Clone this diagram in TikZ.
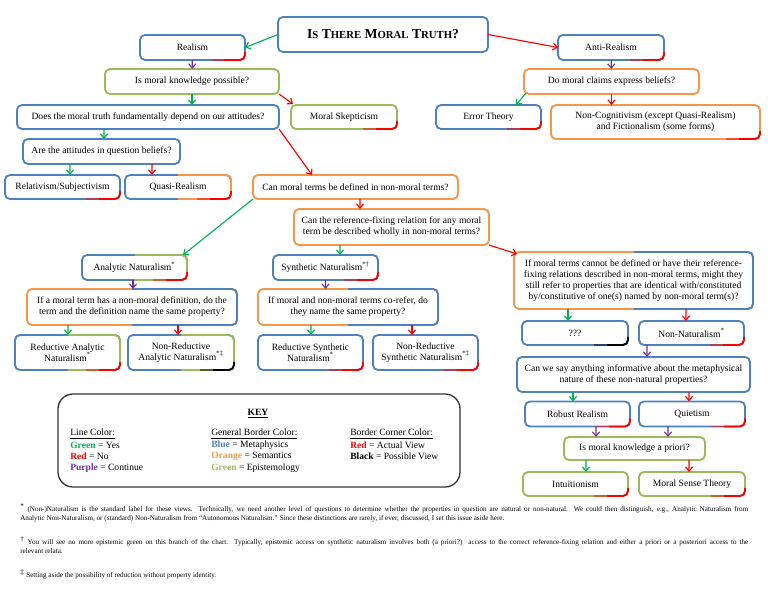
\documentclass[tikz,border=0pt]{standalone}
\usepackage{fontspec}
\setmainfont{Liberation Serif}
\usetikzlibrary{arrows.meta,calc}

\definecolor{mblue}{RGB}{79,129,189}
\definecolor{morange}{RGB}{247,150,70}
\definecolor{mgreen}{RGB}{155,187,89}
\definecolor{lgreen}{RGB}{0,176,80}
\definecolor{lpurple}{RGB}{112,48,160}

\newcommand{\smc}[1]{{\fontsize{7.5}{8.5}\selectfont #1}}
% corner colour of a box (node, corner colour, border colour)
\newcommand{\boxcorner}[3]{%
  \draw[#2!50!#3, line width=1.3pt] ($(#1.south east)+(-34,0)$) -- ($(#1.south east)+(-20,0)$);
  \draw[#2, line width=1.3pt, rounded corners=3.5pt] ($(#1.south east)+(-21,0)$) -- (#1.south east) -- ($(#1.south east)+(0,-8)$);}
% second border colour on the right half
\newcommand{\rightedge}[2]{%
  \draw[#2, line width=1.3pt, rounded corners=3.5pt] (#1.north) -- (#1.north east) -- (#1.south east) -- (#1.south);}

\begin{document}
\begin{tikzpicture}[x=0.7pt, y=-0.7pt,
    box/.style={draw, rounded corners=3.5pt, line width=1.3pt, align=center, inner sep=0pt,
      outer sep=0pt, font=\fontsize{6.7}{7.7}\selectfont},
    bbox/.style={box, draw=mblue},
    obox/.style={box, draw=morange},
    gbox/.style={box, draw=mgreen},
    boxw/.style={minimum width=#1*0.7pt},
    boxh/.style={minimum height=#1*0.7pt},
    yesarr/.style={lgreen, line width=0.8pt, -{Straight Barb[length=3pt,width=5pt]}},
    noarr/.style={red, line width=0.8pt, -{Straight Barb[length=3pt,width=5pt]}},
    contarr/.style={lpurple, line width=0.8pt, -{Straight Barb[length=3pt,width=5pt]}},
    keytext/.style={font=\fontsize{6.7}{7.7}\selectfont, inner sep=0pt, anchor=west},
    fn/.style={font=\fontsize{5}{6}\selectfont, inner sep=0pt, anchor=west}]
    \useasboundingbox (0,0) rectangle (768,594);

    % Top of the chart
    \node[bbox, boxw=210, boxh=35] (title) at (383,34.5)
      {\fontsize{9.6}{11}\selectfont\bfseries I\smc{S} T\smc{HERE} M\smc{ORAL} T\smc{RUTH}?};
    \node[bbox, boxw=105, boxh=25] (realism) at (192.5,47.5) {Realism};
    \node[bbox, boxw=106, boxh=25] (anti) at (611,47.5) {Anti-Realism};

    % Realism branch
    \node[gbox, boxw=174, boxh=25] (knowledge) at (192,81.5) {Is moral knowledge possible?};
    \node[gbox, boxw=106, boxh=24] (skept) at (344,117) {Moral Skepticism};
    \node[bbox, boxw=262, boxh=24] (does) at (148,117) {Does the moral truth fundamentally depend on our attitudes?};
    \node[bbox, boxw=157, boxh=25] (attitudes) at (101.5,151.5) {Are the attitudes in question beliefs?};
    \node[bbox, boxw=115, boxh=24] (relativism) at (62.5,187) {Relativism/Subjectivism};
    \node[bbox, boxw=106, boxh=24] (quasi) at (178,187) {Quasi-Realism};
    \node[obox, boxw=205, boxh=24] (candef) at (355.5,187) {Can moral terms be defined in non-moral terms?};
    \node[obox, boxw=195, boxh=36] (canref) at (391.5,227)
      {Can the reference-fixing relation for any moral\\term be described wholly in non-moral terms?};

    % Naturalism
    \node[bbox, boxw=105, boxh=25] (analytic) at (134.5,267.5) {Analytic Naturalism\textsuperscript{*}};
    \node[bbox, boxw=105, boxh=25] (synthetic) at (325.5,267.5) {Synthetic Naturalism\textsuperscript{*\dag}};
    \node[obox, boxw=210, boxh=36] (ifamoral) at (132,307)
      {If a moral term has a non-moral definition, do the\\term and the definition name the same property?};
    \node[obox, boxw=180, boxh=36] (ifmoraland) at (348,307)
      {If moral and non-moral terms co-refer, do\\they name the same property?};
    \node[bbox, boxw=105, boxh=35] (redan) at (67.5,352.5) {Reductive Analytic\\Naturalism\textsuperscript{*}};
    \node[bbox, boxw=106, boxh=35] (nonredan) at (181,352.5) {Non-Reductive\\Analytic Naturalism\textsuperscript{*\ddag}};
    \node[bbox, boxw=105, boxh=35] (redsyn) at (310.5,352.5) {Reductive Synthetic\\Naturalism\textsuperscript{*}};
    \node[bbox, boxw=105, boxh=35] (nonredsyn) at (425.5,352.5) {Non-Reductive\\Synthetic Naturalism\textsuperscript{*\ddag}};

    % Non-naturalism
    \node[obox, boxw=239, boxh=57] (ifcannot) at (633.5,280.5)
      {If moral terms cannot be defined or have their reference-\\fixing relations described in non-moral terms, might they\\still refer to properties that are identical with/constituted\\by/constitutive of one(s) named by non-moral term(s)?};
    \node[bbox, boxw=106, boxh=24] (unknown) at (575,333) {???};
    \node[bbox, boxw=105, boxh=24] (nonnat) at (691.5,333) {Non-Naturalism\textsuperscript{*}};
    \node[bbox, boxw=233, boxh=35] (canwesay) at (633.5,374.5)
      {Can we say anything informative about the metaphysical\\nature of these non-natural properties?};
    \node[bbox, boxw=105, boxh=25] (robust) at (577.5,414) {Robust Realism};
    \node[bbox, boxw=106, boxh=25] (quietism) at (692,414) {Quietism};
    \node[gbox, boxw=141, boxh=23] (apriori) at (634.5,448.5) {Is moral knowledge a priori?};
    \node[gbox, boxw=105, boxh=24] (intuition) at (575.5,484) {Intuitionism};
    \node[gbox, boxw=106, boxh=24] (moralsense) at (692,484) {Moral Sense Theory};

    % Anti-realism branch
    \node[obox, boxw=175, boxh=25] (doclaims) at (611.5,81.5) {Do moral claims express beliefs?};
    \node[bbox, boxw=105, boxh=24] (error) at (488.5,117) {Error Theory};
    \node[obox, boxw=209, boxh=34] (noncog) at (655.5,122)
      {Non-Cognitivism (except Quasi-Realism)\\and Fictionalism (some forms)};

    % mixed borders and corners
    \rightedge{quasi}{morange}
    \rightedge{analytic}{mgreen}
    \rightedge{ifamoral}{mblue}
    \rightedge{ifmoraland}{mblue}
    \rightedge{redan}{mgreen}
    \rightedge{nonredan}{mgreen}
    \rightedge{ifcannot}{mblue}
    \boxcorner{realism}{red}{mblue}
    \boxcorner{anti}{red}{mblue}
    \boxcorner{skept}{red}{mgreen}
    \boxcorner{relativism}{red}{mblue}
    \boxcorner{quasi}{red}{morange}
    \boxcorner{analytic}{red}{mgreen}
    \boxcorner{synthetic}{red}{mblue}
    \boxcorner{redan}{red}{mgreen}
    \boxcorner{nonredan}{black}{mgreen}
    \boxcorner{redsyn}{red}{mblue}
    \boxcorner{nonredsyn}{red}{mblue}
    \boxcorner{unknown}{black}{mblue}
    \boxcorner{nonnat}{red}{mblue}
    \boxcorner{robust}{red}{mblue}
    \boxcorner{quietism}{red}{mblue}
    \boxcorner{intuition}{red}{mgreen}
    \boxcorner{moralsense}{red}{mgreen}
    \boxcorner{error}{red}{mblue}
    \boxcorner{noncog}{red}{morange}

    % Connectors
    \draw[yesarr] (title.west) -- (realism.east);
    \draw[noarr] (title.east) -- (anti.west);
    \draw[contarr] (realism) -- (knowledge);
    \draw[yesarr] (knowledge.south) -- ($(does.north)+(44,0)$);
    \draw[noarr] (knowledge.south east) -- ($(skept.north west)+(2,-1)$);
    \draw[yesarr] ($(does.south)+(-44,0)$) -- ($(attitudes.north)+(2.5,0)$);
    \draw[noarr] (does.south east) -- ($(candef.north west)+(59,0)$);
    \draw[yesarr] ($(attitudes.south)+(-31.5,0)$) -- ($(relativism.north)+(7.5,0)$);
    \draw[noarr] ($(attitudes.south)+(50.5,0)$) -- ($(quasi.north)+(-26,0)$);
    \draw[contarr] (anti) -- (doclaims);
    \draw[yesarr] ($(doclaims.south west)+(2,-1)$) -- ($(error.north east)+(-25,0)$);
    \draw[noarr] (doclaims.south) -- ($(noncog.north)+(-44,0)$);
    \draw[yesarr] (candef.south west) -- ($(analytic.north east)+(-4,0)$);
    \draw[noarr] ($(candef.south)+(4.5,0)$) -- ($(canref.north)+(-31.5,0)$);
    \draw[yesarr] ($(canref.south)+(-51.5,0)$) -- ($(synthetic.north)+(14.5,0)$);
    \draw[noarr] (canref.south east) -- ($(ifcannot.north west)+(3,2)$);
    \draw[contarr] ($(analytic.south)+(-1.5,0)$) -- ($(ifamoral.north)+(1,0)$);
    \draw[yesarr] ($(ifamoral.south)+(-64,0)$) -- ($(redan.north)+(0.5,0)$);
    \draw[noarr] ($(ifamoral.south)+(46,0)$) -- ($(nonredan.north)+(-3,0)$);
    \draw[contarr] (synthetic.south) -- ($(ifmoraland.north)+(-22.5,0)$);
    \draw[yesarr] ($(ifmoraland.south)+(-37,0)$) -- ($(redsyn.north)+(0.5,0)$);
    \draw[noarr] ($(ifmoraland.south)+(64,0)$) -- ($(nonredsyn.north)+(-13.5,0)$);
    \draw[yesarr] ($(ifcannot.south)+(-65.5,0)$) -- ($(unknown.north)+(-7,0)$);
    \draw[noarr] ($(ifcannot.south)+(52.5,0)$) -- ($(nonnat.north)+(-5.5,0)$);
    \draw[contarr] ($(nonnat.south)+(-44.5,0)$) -- ($(canwesay.north)+(13.5,0)$);
    \draw[yesarr] ($(canwesay.south)+(-60.5,0)$) -- ($(robust.north)+(-4.5,0)$);
    \draw[noarr] ($(canwesay.south)+(55.5,0)$) -- ($(quietism.north)+(-3,0)$);
    \draw[contarr] ($(robust.south)+(18.5,0)$) -- ($(apriori.north)+(-38.5,0)$);
    \draw[contarr] ($(quietism.south)+(-24,0)$) -- ($(apriori.north)+(33.5,0)$);
    \draw[yesarr] ($(apriori.south)+(-48.5,0)$) -- ($(intuition.north)+(10.5,0)$);
    \draw[noarr] ($(apriori.south)+(54.5,0)$) -- ($(moralsense.north)+(-3,0)$);

    % Key
    \node[draw=black!80, rounded corners=10.5pt, line width=0.9pt, outer sep=0pt,
      minimum width=402*0.7pt, minimum height=93*0.7pt] (key) at (259,440.5) {};
    \node[keytext, anchor=center] (keyhead) at (258,414) {\textbf{\underline{KEY}}};
    \node[keytext] (lineA) at (70,434) {\underline{Line Color:}};
    \node[keytext] (lineB) at (70,445) {\textcolor{lgreen}{\textbf{Green}} = Yes};
    \node[keytext] (lineC) at (70,456.5) {\textcolor{red}{\textbf{Red}} = No};
    \node[keytext] (lineD) at (70,468) {\textcolor{lpurple}{\textbf{Purple}} = Continue};
    \node[keytext] (bordA) at (211,434) {\underline{General Border Color:}};
    \node[keytext] (bordB) at (211,445) {\textcolor{mblue}{\textbf{Blue}} = Metaphysics};
    \node[keytext] (bordC) at (211,456.5) {\textcolor{morange}{\textbf{Orange}} = Semantics};
    \node[keytext] (bordD) at (211,468) {\textcolor{mgreen}{\textbf{Green}} = Epistemology};
    \node[keytext] (cornA) at (350,434) {\underline{Border Corner Color:}};
    \node[keytext] (cornB) at (350,445) {\textcolor{red}{\textbf{Red}} = Actual View};
    \node[keytext] (cornC) at (350,456.5) {\textbf{Black} = Possible View};

    % Footnotes
    \node[fn] (fnA) at (20,508) {\makebox[509.6pt][s]{\textsuperscript{*} (Non-)Naturalism is the standard label for these views. Technically, we need another level of questions to determine whether the properties in question are natural or non-natural. We could then distinguish, e.g., Analytic Naturalism from}};
    \node[fn] (fnB) at (20,518.5) {Analytic Non-Naturalism, or (standard) Non-Naturalism from “Autonomous Naturalism.” Since these distinctions are rarely, if ever, discussed, I set this issue aside here.};
    \node[fn] (fnC) at (20,541) {\makebox[509.6pt][s]{\textsuperscript{\dag} You will see no more epistemic green on this branch of the chart. Typically, epistemic access on synthetic naturalism involves both (a priori?) access to the correct reference-fixing relation and either a priori or a posteriori access to the}};
    \node[fn] (fnD) at (20,551.5) {relevant relata.};
    \node[fn] (fnE) at (20,574) {\textsuperscript{\ddag} Setting aside the possibility of reduction without property identity.};
\end{tikzpicture}
\end{document}
